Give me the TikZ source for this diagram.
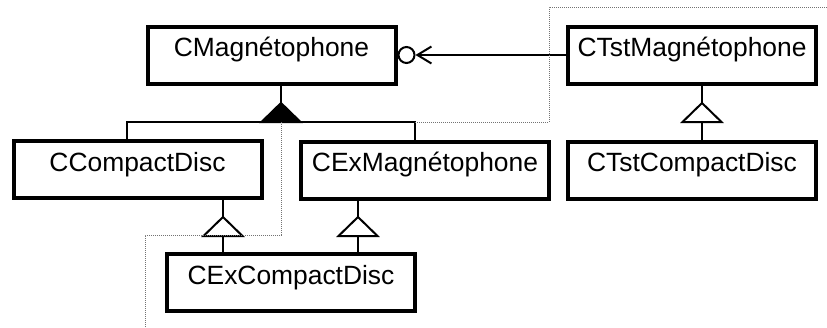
\documentclass[tikz,border=0pt]{standalone}
\usepackage{fontspec}
\setmainfont{Liberation Sans}
\usetikzlibrary{arrows.meta,calc}
\newcommand{\policeclasse}{\fontsize{26.4}{30}\selectfont}
\tikzset{
  classe/.style={draw, line width=4pt, minimum width=248pt, minimum height=57pt,
                 inner sep=0pt, text height=30pt, text depth=27pt, font=\policeclasse},
  lien/.style={line width=2pt},
  bille/.style={circle, draw, line width=2pt, minimum size=16pt, inner sep=0pt},
  paquet/.style={line width=1pt, black!55, dash pattern=on 1pt off 1pt},
  triangleouvert/.pic={\draw[lien, fill=white] (0,0) -- (-19.5,0) -- (0,-19) -- (19.5,0) -- cycle;},
  trianglerempli/.pic={\draw[lien, fill=black] (0,0) -- (-19.5,0) -- (0,-19) -- (19.5,0) -- cycle;}
}

\begin{document}
\begin{tikzpicture}[x=1pt,y=-1pt]
\useasboundingbox (0,0) rectangle (827,327);
% les classes
\node[classe] (mag) at (271.5,55) {CMagnétophone};
\node[classe] (cd) at (137.5,169.5) {CCompactDisc};
\node[classe] (exmag) at (425,170) {CExMagnétophone};
\node[classe] (excd) at (291,282.5) {CExCompactDisc};
\node[classe] (tstmag) at (692,55) {CTstMagnétophone};
\node[classe] (tstcd) at (692,170) {CTstCompactDisc};
% agrégation sous CMagnétophone
\coordinate (barre) at (281,122);
\coordinate (g) at (127,122);
\coordinate (d) at (415,122);
\draw[lien] (cd.north -| g) -- (g) -- (d) -- (exmag.north -| d);
\draw[lien] (barre) ++(0,-19) -- (mag.south -| barre);
\pic at (barre) {trianglerempli};
% héritages
\coordinate (h1) at (223,236);
\coordinate (h2) at (358,236);
\coordinate (h3) at (702,122);
\draw[lien] (excd.north -| h1) -- (h1);
\draw[lien] (h1) ++(0,-19) -- (cd.south -| h1);
\pic at (h1) {triangleouvert};
\draw[lien] (excd.north -| h2) -- (h2);
\draw[lien] (h2) ++(0,-19) -- (exmag.south -| h2);
\pic at (h2) {triangleouvert};
\draw[lien] (tstcd.north -| h3) -- (h3);
\draw[lien] (h3) ++(0,-19) -- (tstmag.south -| h3);
\pic at (h3) {triangleouvert};
% dépendance
\node[bille] (rond) at (406.5,55) {};
\draw[lien, -{Straight Barb[length=14pt, width=17pt]}] (tstmag.west) -- (rond.east);
% limites des paquetages
\draw[paquet] (barre) -- ++(0,113) -| (145,327);
\draw[paquet] (d) -| (549,7) -- (827,7);
\end{tikzpicture}
\end{document}
